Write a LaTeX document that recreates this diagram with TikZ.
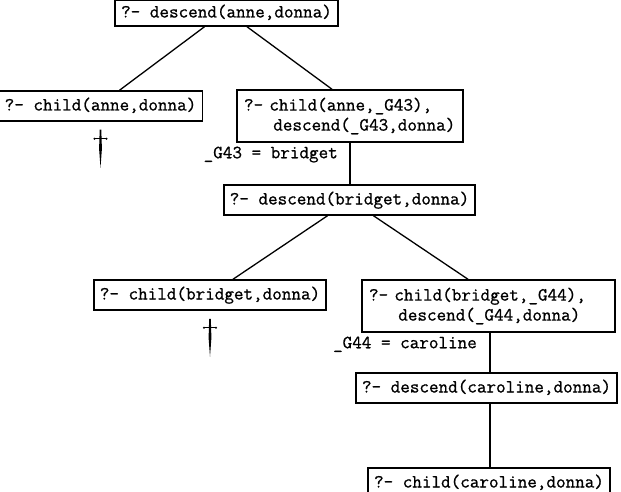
\documentclass[tikz,border=0pt]{standalone}
\usepackage{fontspec}
\setmonofont{Latin Modern Mono}[FakeBold=0.9]
\usetikzlibrary{calc}
\newcommand{\mydagger}[1]{%
  \fill ($(#1.south)+(-0.8,8)$) -- ($(#1.south)+(0.8,8)$) -- ($(#1.south)+(1.4,27)$) -- ($(#1.south)+(0,46)$) -- ($(#1.south)+(-1.4,27)$) -- cycle;
  \draw[line width=1.3pt] ($(#1.south)+(-6,17)$) -- ($(#1.south)+(6,17)$);
  \fill ($(#1.south)+(-6,17)$) circle (1.1) ($(#1.south)+(6,17)$) circle (1.1);
}
\begin{document}
\begin{tikzpicture}[x=1pt,y=-1pt,
  goal/.style={draw, line width=1.5pt, font=\fontsize{18.6}{20}\selectfont\ttfamily,
    inner xsep=6pt, inner ysep=5.5pt, text height=14pt, text depth=5pt},
  goal2/.style={draw, line width=1.5pt, font=\fontsize{18.6}{20}\selectfont\ttfamily,
    inner xsep=7pt, inner ysep=0pt, align=left, minimum height=52pt},
  binding/.style={font=\fontsize{18.6}{20}\selectfont\ttfamily, inner sep=0pt,
    text height=14pt, text depth=5pt, anchor=east},
  edge/.style={line width=1.3pt}]
\useasboundingbox (0,0) rectangle (621,492);
\clip (0,0) rectangle (621,492);

\node[goal, minimum height=26pt, inner ysep=3.5pt] (A) at (226.5,13) {?- descend(anne,donna)};
\node[goal] (B) at (100.5,106) {?- child(anne,donna)};
\node[goal2, text width=212pt] (C) at (350,116) {?- child(anne,\_G43),\\\hspace*{1.575em}descend(\_G43,donna)};
\node[goal] (D) at (349.5,200) {?- descend(bridget,donna)};
\node[goal] (E) at (210,295) {?- child(bridget,donna)};
\node[goal2, text width=239pt] (F) at (488.5,306) {?- child(bridget,\_G44),\\\hspace*{1.575em}descend(\_G44,donna)};
\node[goal] (G) at (486.5,388) {?- descend(caroline,donna)};
\node[goal] (H) at (489,483) {?- child(caroline,donna)};

\node[binding] (L1) at ($(C.south)+(-12,11)$) {\_G43 = bridget};
\node[binding] (L2) at ($(F.south)+(-11.5,11)$) {\_G44 = caroline};

\draw[edge] ($(A.south)+(-22,0)$) -- ($(B.north)+(19,0)$);
\draw[edge] ($(A.south)+(20.5,0)$) -- ($(C.north)+(-18,0)$);
\draw[edge] (C.south) -- (C.south |- D.north);
\draw[edge] ($(D.south)+(-22,0)$) -- ($(E.north)+(23,0)$);
\draw[edge] ($(D.south)+(24,0)$) -- ($(F.north)+(-20.5,0)$);
\draw[edge] ($(F.south)+(1.5,0)$) -- ($(F.south |- G.north)+(1.5,0)$);
\draw[edge] ($(F.south |- G.south)+(1.5,0)$) -- ($(F.south |- H.north)+(1.5,0)$);

\mydagger{B}
\mydagger{E}
\end{tikzpicture}
\end{document}
